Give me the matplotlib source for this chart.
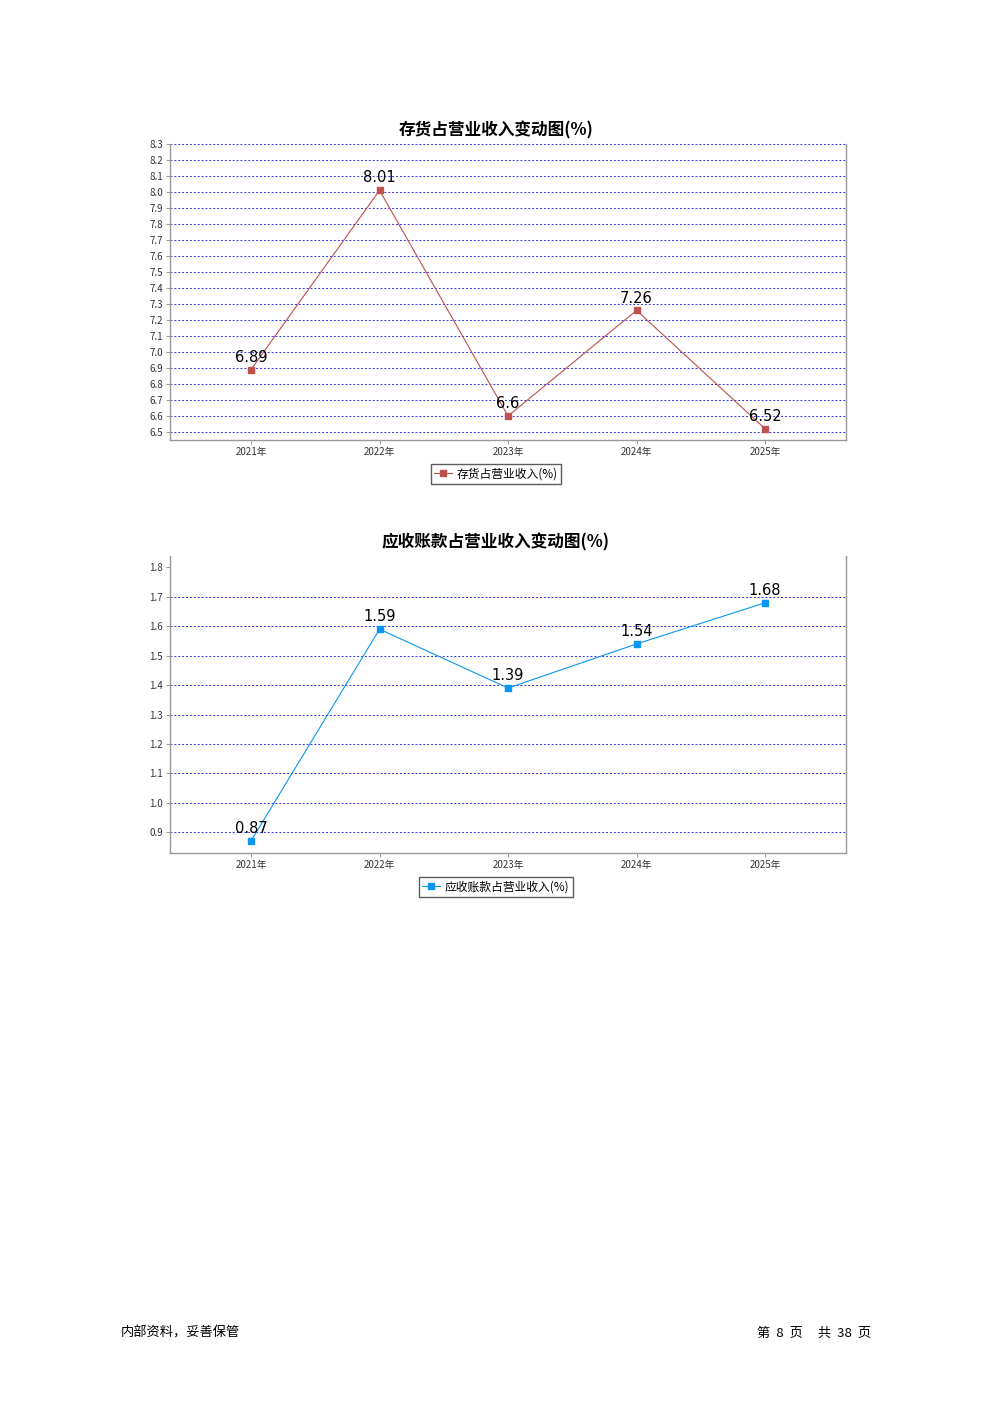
import numpy as np
import matplotlib
matplotlib.use('Agg')
import matplotlib.pyplot as plt

plt.rcParams['font.family'] = ['Noto Sans CJK SC', 'DejaVu Sans']

years = ['2021年', '2022年', '2023年', '2024年', '2025年']
inventory_ratio = [6.89, 8.01, 6.6, 7.26, 6.52]
receivable_ratio = [0.87, 1.59, 1.39, 1.54, 1.68]

inv_ticks = [6.5, 6.6, 6.7, 6.8, 6.9, 7.0, 7.1, 7.2, 7.3, 7.4, 7.5, 7.6, 7.7, 7.8, 7.9, 8.0, 8.1, 8.2, 8.3]
rec_ticks = [0.9, 1.0, 1.1, 1.2, 1.3, 1.4, 1.5, 1.6, 1.7, 1.8]


def draw_chart(ax, values, color, title, label, ticks, ylim, grid_ticks):
    x_pos = np.arange(len(years))
    ax.plot(x_pos, values, color=color, linewidth=0.8, marker='s', markersize=5,
            label=label, zorder=3)
    for i in range(len(values)):
        ax.annotate(str(values[i]), (x_pos[i], values[i]), xytext=(0, 3.5),
                    textcoords='offset points', ha='center', va='bottom',
                    fontsize=10.5, family='DejaVu Sans', zorder=4)

    ax.set_xlim(-0.63, len(years) - 1 + 0.63)
    ax.set_ylim(*ylim)
    ax.set_xticks(x_pos)
    ax.set_xticklabels(years, fontsize=7, color='#333333')
    ax.set_yticks(ticks)
    ax.set_yticklabels(['%.1f' % t for t in ticks], fontsize=7, color='#333333')
    ax.tick_params(axis='both', length=3, width=0.6, color='#888888', pad=2)

    for t in grid_ticks:
        ax.axhline(t, color='#3333ee', linestyle=(0, (2, 2)), linewidth=0.7, zorder=1)

    ax.spines['top'].set_visible(False)
    for s in ['left', 'bottom', 'right']:
        ax.spines[s].set_color('#999999')
        ax.spines[s].set_linewidth(1.0)

    # title and legend are centred on the page, not on the plot area
    ax.set_title(title, fontsize=12, fontweight='bold', x=0.482, y=1.0, pad=6)
    ax.legend(loc='upper center', bbox_to_anchor=(0.482, -0.06), fontsize=8.5,
              frameon=True, fancybox=False, edgecolor='#333333', handlelength=1.5,
              handletextpad=0.4, borderpad=0.3, markerscale=0.8)


fig = plt.figure(figsize=(9.92, 14.03), dpi=100)

ax1 = fig.add_axes([0.1714, 0.6864, 0.6815, 0.2110])
draw_chart(ax1, inventory_ratio, '#c0504d', '存货占营业收入变动图(%)', '存货占营业收入(%)',
           inv_ticks, (6.45, 8.3), inv_ticks)

ax2 = fig.add_axes([0.1714, 0.3920, 0.6815, 0.2117])
draw_chart(ax2, receivable_ratio, '#0a96f0', '应收账款占营业收入变动图(%)', '应收账款占营业收入(%)',
           rec_ticks, (0.829, 1.839), rec_ticks[:-1])

fig.text(121 / 992, 1 - 1333 / 1403, '内部资料，妥善保管', fontsize=9.5, va='center', ha='left')
fig.text(871 / 992, 1 - 1333 / 1403, '第  8  页     共  38  页', fontsize=9.5, va='center', ha='right')

plt.savefig('out.png', dpi=100)
